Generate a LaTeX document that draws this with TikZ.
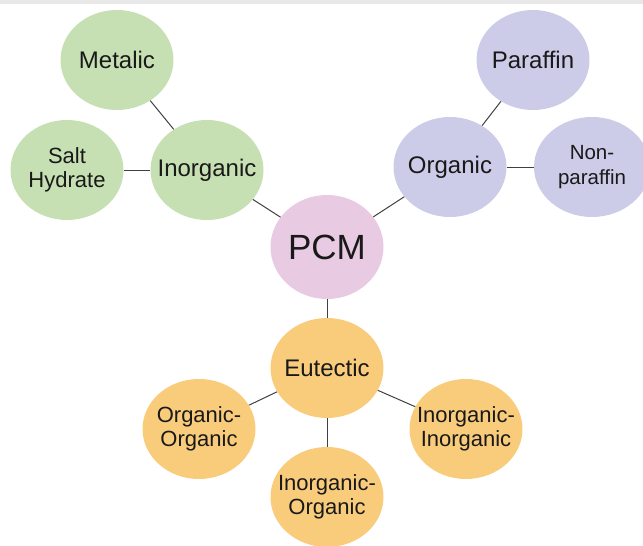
\documentclass[tikz,border=0pt]{standalone}
\usepackage{fontspec}
\setmainfont{Liberation Sans}
\usetikzlibrary{shapes.geometric}
\definecolor{inorggreen}{RGB}{198,224,180}
\definecolor{orgpurple}{RGB}{204,204,232}
\definecolor{pcmpink}{RGB}{232,202,226}
\definecolor{euteorange}{RGB}{249,204,124}
\definecolor{linegray}{RGB}{64,64,64}
\definecolor{topgray}{RGB}{232,232,232}
\begin{document}
\begin{tikzpicture}[x=1pt,y=-1pt]
\tikzstyle{every node} = [ellipse, minimum width=113pt, minimum height=100pt, inner xsep=-25pt, inner ysep=0, align=center, text=black!90, font=\fontsize{24}{25}\selectfont]
\tikzstyle{twoline} = [font=\fontsize{22}{24}\selectfont]
\tikzstyle{edge} = [draw, line width=1.0, color=linegray]
\tikzstyle{inorg} = [fill=inorggreen]
\tikzstyle{org} = [fill=orgpurple]
\tikzstyle{eute} = [fill=euteorange]
\useasboundingbox (0,0) rectangle (643,546);
\fill[topgray] (0,0) rectangle (643,4);
\node[fill=pcmpink, minimum height=104pt, font=\fontsize{35}{38}\selectfont] (pcm) at (327, 247) {PCM};
\node[inorg] (inorganic) at (207, 170) {Inorganic};
\node[inorg] (metalic) at (117, 60) {Metalic};
\node[inorg, twoline] (salt) at (67, 170) {Salt\\Hydrate};
\node[org] (organic) at (450, 167) {Organic};
\node[org] (paraffin) at (533, 60) {Paraffin};
\node[org, twoline, minimum width=116pt, font=\fontsize{20.5}{24.5}\selectfont] (nonpar) at (592, 167) {Non-\\paraffin};
\node[eute] (eutectic) at (327, 368) {Eutectic};
\node[eute, twoline] (orgorg) at (199, 429) {Organic-\\Organic};
\node[eute, twoline] (inoinorg) at (466, 429) {Inorganic-\\Inorganic};
\node[eute, twoline] (inoorg) at (327, 497) {Inorganic-\\Organic};
\draw[edge] (metalic) -- (inorganic);
\draw[edge] (salt) -- (inorganic);
\draw[edge] (inorganic) -- (pcm);
\draw[edge] (organic) -- (pcm);
\draw[edge] (paraffin) -- (organic);
\draw[edge] (nonpar) -- (organic);
\draw[edge] (pcm) -- (eutectic);
\draw[edge] (eutectic) -- (orgorg);
\draw[edge] (eutectic) -- (inoinorg);
\draw[edge] (eutectic) -- (inoorg);
\end{tikzpicture}
\end{document}
